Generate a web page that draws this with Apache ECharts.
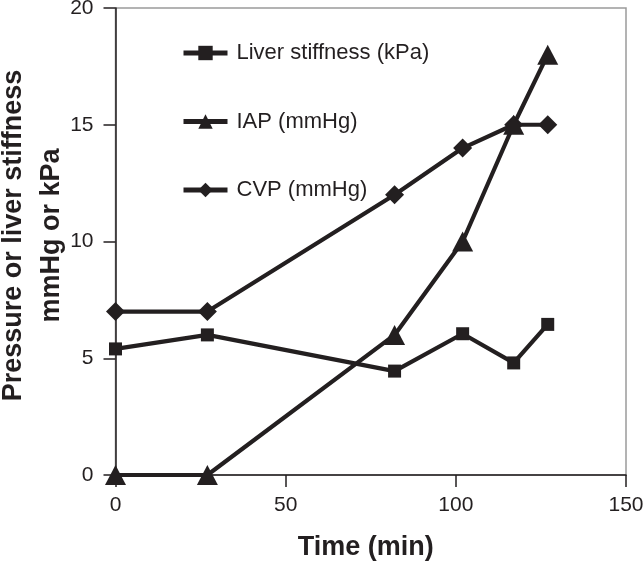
<!DOCTYPE html>
<html><head><meta charset="utf-8">
<script src="https://cdn.jsdelivr.net/npm/echarts@6/dist/echarts.min.js"></script>
<style>html,body{margin:0;padding:0;background:#fff}#c{width:643px;height:568px}</style>
</head><body><div id="c"></div>
<script>
const times = [0, 27, 82, 102, 117, 127];
const liverStiffness = [5.4, 6.0, 4.45, 6.05, 4.8, 6.45];
const iap = [0, 0, 6, 10, 15, 18];
const cvp = [7, 7, 12, 14, 15, 15];
const xTicks = [0, 50, 100, 150];
const yTicks = [0, 5, 10, 15, 20];

const pair = (xs, ys) => xs.map((x, i) => [x, ys[i]]);
const font = 'Arial, "Liberation Sans", sans-serif';
const ink = '#231f20';
const chart = echarts.init(document.getElementById('c'));
const base = {type: 'line', lineStyle: {color: ink, width: 4.2}, itemStyle: {color: ink}, symbolKeepAspect: true};
chart.setOption({
  animation: false,
  backgroundColor: '#fff',
  grid: {left: 115.5, right: 17, top: 8, bottom: 93, show: true, borderColor: '#9a9a9a', borderWidth: 1.5, containLabel: false, outerBoundsMode: 'none'},
  legend: {
    orient: 'vertical', left: 176, top: 36, itemGap: 44.5, itemWidth: 44, itemHeight: 18,
    lineStyle: {width: 5},
    textStyle: {fontFamily: font, fontSize: 22, lineHeight: 24, color: ink, padding: [0, 0, 0, 4]},
    data: ['Liver stiffness (kPa)', 'IAP (mmHg)', 'CVP (mmHg)']
  },
  xAxis: {
    type: 'value', min: 0, max: 150, interval: 50,
    name: 'Time (min)', nameLocation: 'middle', nameGap: 59, nameMoveOverlap: false,
    nameTextStyle: {fontFamily: font, fontSize: 27, fontWeight: 'bold', color: ink, padding: [0, 10, 0, 0]},
    axisLine: {show: true, lineStyle: {color: ink, width: 1.5}},
    axisTick: {show: true, length: 12, lineStyle: {color: ink, width: 1.5}},
    axisLabel: {fontFamily: font, fontSize: 21, color: ink, margin: 20},
    splitLine: {show: false}
  },
  yAxis: {
    type: 'value', min: 0, max: 20, interval: 5,
    name: 'Pressure or liver stiffness\nmmHg or kPa', nameLocation: 'middle', nameGap: 45, nameMoveOverlap: false,
    nameTextStyle: {fontFamily: font, fontSize: 27, fontWeight: 'bold', color: ink, lineHeight: 38, padding: [0, 0, 0, 12]},
    axisLine: {show: true, lineStyle: {color: ink, width: 1.5}},
    axisTick: {show: true, length: 12, lineStyle: {color: ink, width: 1.5}},
    axisLabel: {fontFamily: font, fontSize: 21, color: ink, margin: 22},
    splitLine: {show: false}
  },
  series: [
    Object.assign({}, base, {name: 'Liver stiffness (kPa)', symbol: 'rect', symbolSize: 13, data: pair(times, liverStiffness), z: 3}),
    Object.assign({}, base, {name: 'IAP (mmHg)', symbol: 'triangle', symbolSize: [21, 20], data: pair(times, iap), z: 4}),
    Object.assign({}, base, {name: 'CVP (mmHg)', symbol: 'diamond', symbolSize: [19, 19], data: pair(times, cvp), z: 2})
  ]
});
</script></body></html>
